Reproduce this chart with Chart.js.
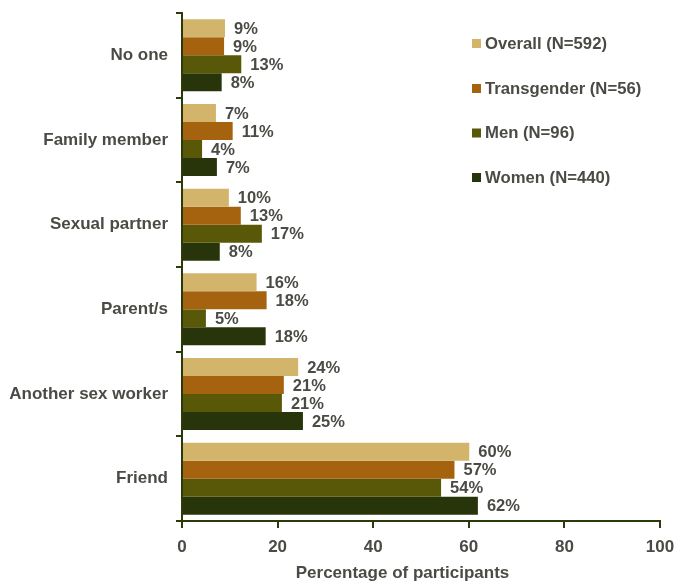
<!DOCTYPE html>
<html>
<head>
<meta charset="utf-8">
<script src="https://cdn.jsdelivr.net/npm/chart.js@4"></script>
<style>
html,body{margin:0;padding:0;background:#fff;}
#wrap{width:675px;height:583px;position:relative;}
</style>
</head>
<body>
<div id="wrap"><canvas id="c" width="675" height="583"></canvas></div>
<script>
const categories = ["No one", "Family member", "Sexual partner", "Parent/s", "Another sex worker", "Friend"];
const seriesNames = ["Overall (N=592)", "Transgender (N=56)", "Men (N=96)", "Women (N=440)"];
const overall     = [9.0, 7.1, 9.8, 15.6, 24.3, 60.1];
const transgender = [8.8, 10.6, 12.3, 17.7, 21.3, 57.0];
const men         = [12.4, 4.2, 16.7, 5.0, 20.9, 54.2];
const women       = [8.3, 7.3, 7.9, 17.5, 25.3, 61.9];
const valueLabels = [
  ["9%", "7%", "10%", "16%", "24%", "60%"],
  ["9%", "11%", "13%", "18%", "21%", "57%"],
  ["13%", "4%", "17%", "5%", "21%", "54%"],
  ["8%", "7%", "8%", "18%", "25%", "62%"]
];
const xTicks = [0, 20, 40, 60, 80, 100];
const xTitle = "Percentage of participants";
const colors = ["#D2B56B", "#A5620F", "#585808", "#283409"];

const axisColor = "#2b3a0b";
const textColor = "#4b4b45";
const FONT = "'Liberation Sans', Arial, sans-serif";

const overlay = {
  id: 'overlay',
  afterDatasetsDraw(chart) {
    const ctx = chart.ctx;
    ctx.save();
    ctx.font = "bold 16.5px " + FONT;
    ctx.fillStyle = textColor;
    ctx.textBaseline = 'middle';
    ctx.textAlign = 'left';
    chart.data.datasets.forEach((ds, di) => {
      const meta = chart.getDatasetMeta(di);
      meta.data.forEach((bar, i) => {
        ctx.fillText(valueLabels[di][i], bar.x + 9, bar.y + 1);
      });
    });
    // legend
    ctx.font = "bold 16.7px " + FONT;
    const ly = [44, 89, 133.5, 178];
    seriesNames.forEach((n, i) => {
      ctx.fillStyle = colors[i];
      ctx.fillRect(472, ly[i] - 5, 9, 9);
      ctx.fillStyle = textColor;
      ctx.fillText(n, 485, ly[i]);
    });
    // x title
    ctx.textAlign = 'center';
    ctx.font = "bold 17px " + FONT;
    ctx.fillText(xTitle, 402.5, 573);
    ctx.restore();
  }
};

new Chart(document.getElementById('c'), {
  type: 'bar',
  data: {
    labels: categories,
    datasets: [overall, transgender, men, women].map((d, i) => ({
      label: seriesNames[i],
      data: d,
      backgroundColor: colors[i],
      borderWidth: 0,
      categoryPercentage: 0.85,
      barPercentage: 1.0
    }))
  },
  options: {
    indexAxis: 'y',
    responsive: false,
    animation: false,
    devicePixelRatio: 1,
    layout: { padding: { top: 13, right: 15, left: 0, bottom: 0 } },
    plugins: { legend: { display: false }, tooltip: { enabled: false } },
    scales: {
      x: {
        min: 0, max: 100,
        afterBuildTicks(scale) { scale.ticks = xTicks.map(v => ({ value: v })); },
        afterFit(scale) { scale.height = 583 - 521; scale.paddingRight = 0; scale.paddingLeft = 0; },
        border: { color: axisColor, width: 2 },
        grid: { drawOnChartArea: false, drawTicks: true, tickLength: 7, color: axisColor, lineWidth: 2 },
        ticks: { color: textColor, font: { family: FONT, size: 17, weight: 'bold' }, padding: 9 }
      },
      y: {
        afterFit(scale) { scale.width = 182; scale.paddingTop = 0; scale.paddingBottom = 0; },
        border: { color: axisColor, width: 2 },
        grid: { drawOnChartArea: false, drawTicks: true, tickLength: 6, color: axisColor, lineWidth: 2, offset: true },
        ticks: { color: textColor, font: { family: FONT, size: 17, weight: 'bold' }, padding: 8 }
      }
    }
  },
  plugins: [overlay]
});
</script>
</body>
</html>
